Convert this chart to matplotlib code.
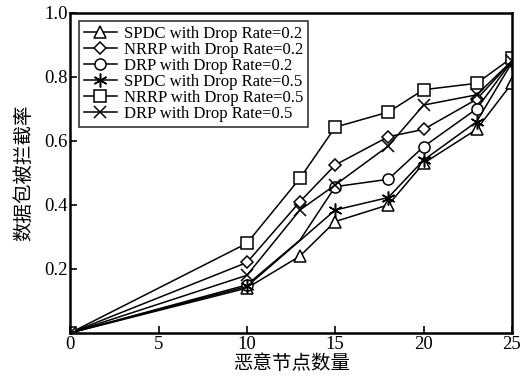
import matplotlib

matplotlib.use("Agg")

import matplotlib.pyplot as plt

plt.rcParams["font.family"] = ["Liberation Serif", "Noto Sans CJK SC"]
plt.rcParams["mathtext.fontset"] = "stix"

# number of malicious nodes
x_main = [0, 10, 13, 15, 18, 20, 23, 25]
x_no13 = [0, 10, 15, 18, 20, 23, 25]

spdc_02 = [0.0, 0.14, 0.24, 0.348, 0.40, 0.53, 0.636, 0.78]
nrrp_02 = [0.0, 0.22, 0.41, 0.525, 0.613, 0.636, 0.73, 0.85]
drp_02 = [0.0, 0.15, 0.29, 0.457, 0.48, 0.582, 0.70, 0.85]
spdc_05 = [0.0, 0.145, 0.384, 0.423, 0.54, 0.66, 0.845]
nrrp_05 = [0.0, 0.28, 0.483, 0.643, 0.69, 0.76, 0.78, 0.86]
drp_05 = [0.0, 0.18, 0.384, 0.4625, 0.584, 0.712, 0.744, 0.85]

labels = [
    "SPDC with Drop Rate=0.2",
    "NRRP with Drop Rate=0.2",
    "DRP with Drop Rate=0.2",
    "SPDC with Drop Rate=0.5",
    "NRRP with Drop Rate=0.5",
    "DRP with Drop Rate=0.5",
]

fig = plt.figure(figsize=(5.24, 3.8), dpi=100)
ax = fig.add_axes([0.134, 0.124, 0.843, 0.842])

common = dict(color="black", linewidth=1.1, markersize=8, markerfacecolor="white",
              markeredgecolor="black", markeredgewidth=1.1)

ax.plot(x_main, spdc_02, marker="^", label=labels[0], **common)
ax.plot(x_main, nrrp_02, marker="D", label=labels[1], **dict(common, markersize=6.5))
ax.plot(x_main, drp_02, marker="o", markevery=[0, 1, 3, 4, 5, 6, 7], label=labels[2], **common)
ax.plot(x_no13, spdc_05, marker=(6, 2, 0), label=labels[3], **dict(common, markersize=10))
ax.plot(x_main, nrrp_05, marker="s", label=labels[4], **common)
ax.plot(x_main, drp_05, marker="x", label=labels[5], **dict(common, markersize=9))

ax.set_xlim(0, 25)
ax.set_ylim(0, 1.0)
ax.set_xticks([0, 5, 10, 15, 20, 25])
ax.set_yticks([0.2, 0.4, 0.6, 0.8, 1.0])
ax.set_yticklabels(["0.2", "0.4", "0.6", "0.8", "1.0"])
ax.tick_params(direction="in", length=5, width=1.2, labelsize=13.5, pad=2)
for s in ax.spines.values():
    s.set_linewidth(1.8)

ax.set_xlabel("恶意节点数量", fontsize=14, labelpad=1)
ax.set_ylabel("数据包被拦截率", fontsize=14, labelpad=8)

leg = ax.legend(loc="upper left", fontsize=12, frameon=True, fancybox=False,
                edgecolor="black", handlelength=2.0, handletextpad=0.4,
                labelspacing=0.0, borderpad=0.3, borderaxespad=0.5)
leg.get_frame().set_linewidth(1.2)

fig.savefig("out.png", dpi=100)
